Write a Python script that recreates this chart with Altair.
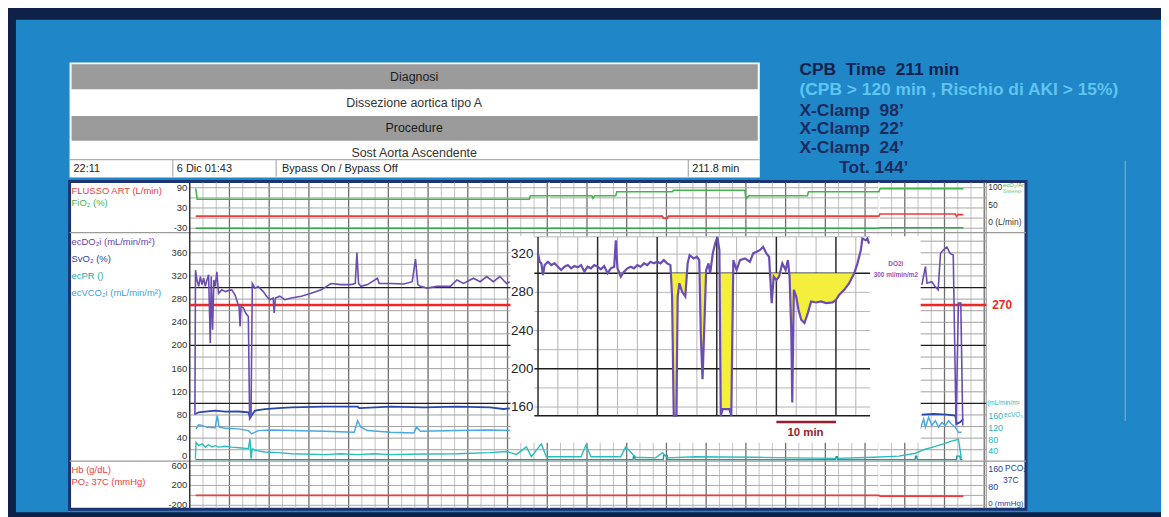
import altair as alt
import pandas as pd
import numpy as np

FONT = "Liberation Sans"
W, H = 1161, 509
M = 8  # page margin (image px -> chart px)
NB = "\u00a0"

# ---------------- data (minutes from bypass start) ----------------
DO2I_L_T = [1.3, 1.45, 1.83, 2.25, 2.67, 3.08, 3.5, 3.92, 4.33, 4.75, 5.17, 5.42, 5.75, 6.08, 6.42, 6.83, 7.25, 8.08, 8.92, 9.75,
            10.58, 11.42, 12.08, 12.42, 12.67, 12.92, 13.5, 14.08, 14.75, 15.08, 15.42, 15.75, 16.42, 17.25, 18.5, 19.33, 20.17, 21.0, 21.25, 21.58,
            22.67, 23.92, 25.58, 28.08, 30.58, 33.08, 35.58, 38.08, 40.58, 41.67, 42.08, 42.5, 43.08, 44.75, 47.25, 47.67, 50.58, 53.92, 56.0, 56.83,
            57.42, 58.08, 59.75, 62.25, 65.58, 67.25, 68.92, 71.42, 73.08, 74.75, 76.42, 78.08, 79.75, 80.58]
DO2I_L_V = [80, 330, 313, 302, 319, 305, 316, 302, 313, 322, 204, 319, 227, 313, 302, 327, 290, 296, 293, 295,
            296, 287, 273, 267, 233, 267, 265, 256, 250, 73, 76, 307, 299, 302, 293, 285, 279, 282, 256, 282,
            285, 279, 282, 285, 290, 296, 307, 305, 305, 307, 360, 307, 302, 305, 316, 307, 307, 306, 310, 349,
            305, 302, 299, 302, 302, 313, 307, 316, 310, 319, 310, 319, 307, 310]
DO2I_R_T = [184.3, 185.2, 185.6, 186.8, 187.6, 188.4, 189.0, 189.7, 190.6, 191.4, 192.2, 192.9, 193.5, 194.1, 194.6]
DO2I_R_V = [304.6, 336, 307.5, 310, 302, 296, 359, 364.6, 370, 359, 356, 61.7, 273, 273, 61.7]

SVO2_L_T = [1.42, 2.25, 3.92, 6.42, 8.92, 12.25, 14.75, 15.17, 15.58, 16.42, 18.92, 22.25, 25.58, 33.92, 42.25, 42.67, 50.58, 58.92, 67.25, 75.58, 78.92, 80.58]
SVO2_L_V = [81.8, 84.6, 85.7, 87.5, 85.7, 86, 84.6, 76, 79, 87.5, 90, 92, 93, 94.3, 94.3, 92, 94.3, 93, 94.3, 93, 90.3, 91.5]
SVO2_R_T = [184.3, 187.2, 190.6, 192.7, 193.1, 193.9, 194.75]
SVO2_R_V = [80.6, 81.7, 80.6, 79, 64.7, 67.5, 73]

VCO2_L_T = [1.58, 2.25, 3.08, 4.33, 6.42, 6.92, 7.42, 8.92, 12.25, 14.75, 15.58, 17.25, 20.58, 25.58, 33.92, 41.42, 42.25, 43.08, 44.75, 50.58, 56.42, 57.08, 58.08, 67.25, 75.58, 80.58]
VCO2_L_V = [56, 63, 62, 59, 58, 79, 59, 57, 56, 53, 47.5, 53, 54, 53, 52, 50, 70, 59, 53, 50, 49, 59, 52, 53, 54, 53]
VCO2_R_T = [183.9, 184.75, 185.2, 186, 186.8, 187.7, 188.5, 189.3, 190.2, 191, 191.8, 192.7, 193.5, 194.3]
VCO2_R_V = [56, 73, 59, 76, 62, 70, 59, 67, 62, 70, 64, 59, 50, 50]

ECPR_T = [1.42, 1.58, 2.25, 3.08, 3.92, 4.75, 5.58, 6.42, 7.25, 8.92, 10.58, 13.08, 14.75, 15.17, 15.42, 15.75, 16.42, 18.92, 22.25, 25.58,
          33.92, 38.08, 42.25, 46.42, 50.58, 58.92, 67.25, 75.58, 79.75, 82.25, 84.75, 86, 88.5, 89.75, 98.5, 99.75, 101, 108.5, 109.75, 112.25,
          117.25, 119, 120.25, 127.25, 142.25, 152.25, 162.75, 172.25, 178.5, 182.75, 184.75, 187.25, 189.75, 191.75, 193.5, 194.25]
ECPR_V = [4.6, 33, 27, 30, 24.6, 28.6, 24.6, 27, 24.6, 26, 24.6, 23, 22, 39, 4.6, 22, 19, 16, 15, 13,
          11.5, 13, 11.5, 13, 11.5, 12.6, 13, 15, 17, 12, 25, 8, 30, 8, 8, 28, 8, 8, 25, 7,
          6, 15, 6, 8, 7, 6, 5, 7, 9, 14, 20, 25, 30, 35, 38, 5]
BASE_T = [1.42, 111.6, 111.7, 112.0, 112.1, 119.2, 119.3, 120.2, 120.3, 162.6, 162.7, 163.0, 163.1, 182.6, 182.7, 183.0, 183.1, 193.0, 193.1, 193.9, 194.0, 194.5]
BASE_V = [3, 3, 9, 9, 3, 3, 10, 10, 3, 3, 8, 8, 3, 3, 9, 9, 3, 3, 9, 9, 3, 3]

FIO2_T = [1.5, 1.88, 85.5, 85.75, 101.25, 101.5, 102, 107.25, 107.5, 121.5, 121.75, 139.75, 140, 140.75, 155.5, 155.75, 173.5, 173.75, 194.75]
FIO2_V = [88, 56, 56, 66, 66, 59, 66, 66, 78, 78, 82.6, 82.6, 58, 66, 66, 78, 78, 87, 87]
FLOW_T = [1.5, 119, 119.25, 120.25, 120.5, 173.5, 173.75, 192.75, 193, 193.5, 194.75]
FLOW_V = [6, 6, 0, 0, 6, 6, 12, 12, 5, 11, 10]
GAS_T = [1.5, 173.5, 173.75, 194.75]
GAS_V = [-30, -30, -28.5, -28.5]

PO2_T = [1.5, 173.5, 173.75, 194.75]
PO2_V = [0, 0, -15, -15]

IN_T = [0.0, 0.28, 0.56, 0.83, 1.11, 1.67, 2.22, 2.78, 3.33, 3.89, 4.44, 5.0, 5.56, 6.11, 6.67, 7.22, 7.78, 8.33, 8.89, 9.44,
        10.0, 10.56, 11.11, 11.67, 12.22, 12.78, 13.06, 13.33, 13.89, 14.44, 15.0, 15.56, 16.11, 16.67, 17.22, 17.78, 18.33, 18.89, 19.44, 20.0,
        20.56, 21.11, 21.67, 22.22, 22.5, 22.78, 23.22, 23.44, 23.72, 24.17, 24.72, 25.11, 25.44, 26.11, 26.67, 27.06, 27.33, 27.61, 27.89, 28.22,
        28.61, 28.89, 29.33, 29.72, 30.11, 30.44, 30.67, 31.0, 32.11, 32.44, 32.78, 33.33, 33.89, 34.72, 35.56, 36.11, 36.67, 37.22, 37.78, 38.33,
        38.78, 39.0, 39.22, 39.56, 40.0, 40.44, 41.0, 41.56, 41.94, 42.22, 42.5, 42.67, 42.94, 43.33, 43.72, 44.17, 44.72, 45.28, 45.83, 46.67,
        47.5, 48.33, 49.44, 50.0, 50.56, 51.39, 52.22, 53.06, 53.61, 54.17, 54.44, 55.0, 55.28, 55.56]
IN_V = [320.7, 312.0, 310.3, 298.1, 308.5, 312.0, 308.5, 310.3, 306.8, 303.3, 306.8, 308.5, 305.1, 307.5, 306.1, 308.5, 301.6, 306.8, 305.1, 308.5,
        306.8, 304.0, 307.5, 299.9, 305.1, 306.8, 334.5, 305.1, 296.4, 301.6, 305.1, 306.8, 305.1, 308.5, 306.8, 310.3, 308.5, 312.0, 310.3, 312.0,
        310.3, 313.7, 310.3, 308.5, 275.6, 144, 144, 275.6, 289.5, 280.8, 275.6, 310.3, 318.9, 315.5, 317.2, 313.7, 234.1, 189.1, 241.0, 303.3,
        310.3, 299.9, 320.7, 331.0, 338.0, 324.1, 144, 157.9, 157.9, 144, 313.7, 303.3, 313.7, 315.5, 312.0, 320.7, 322.4, 324.1, 327.6, 320.7,
        317.2, 293.0, 268.7, 296.4, 293.0, 296.4, 310.3, 303.3, 313.7, 296.4, 241.0, 164.8, 282.6, 275.6, 261.8, 251.4, 247.9, 258.3, 270.4, 269.4,
        270.4, 268.7, 269.4, 272.2, 277.4, 282.6, 289.5, 299.9, 310.3, 324.1, 336.2, 334.5, 336.2, 331.0]
IN_THRESHOLD = 300

TOP_TICKS = [90, 30, -30]
MID_TICKS = [360, 320, 280, 240, 200, 160, 120, 80, 40]
BOT_TICKS = [600, 200, -200]
IN_TICKS = [320, 280, 240, 200, 160]
RED_LIMIT = [270]

# ---------------- helpers ----------------
def px(v):
    return v - M

ONE = pd.DataFrame({"k": [0]})


def sc(domain, rng, clamp=False):
    kw = dict(domain=domain, range=[px(r) for r in rng], nice=False, zero=False)
    if clamp:
        kw["clamp"] = True
    return alt.Scale(**kw)


XS = sc([0, 200.5], [191, 993])
YS_TOP = sc([-30, 90], [228, 187.2])
YS_MID = sc([0, 360], [462.7, 252.7])
YS_BOT = sc([-200, 600], [507, 467])
XS_IN = sc([0, 55.67], [541.7, 875.7])
YS_IN = sc([151, 338], [416.7, 236.7], clamp=True)


def box(x1, y1, x2, y2, fill, stroke=None, sw=0):
    kw = {"fill": fill, "strokeWidth": sw}
    if stroke is not None:
        kw["stroke"] = stroke
    return alt.Chart(ONE).mark_rect(**kw).encode(
        x=alt.value(px(x1)), x2=alt.value(px(x2)), y=alt.value(px(y1)), y2=alt.value(px(y2)))


def label(s, x, y, size=10, color="#000", weight="normal", align="left", baseline="middle"):
    return alt.Chart(ONE).mark_text(text=s, font=FONT, fontSize=size, color=color, fontWeight=weight,
                                    align=align, baseline=baseline).encode(x=alt.value(px(x)), y=alt.value(px(y)))


def hline(x1, x2, y, color, sw=1):
    return alt.Chart(ONE).mark_rule(color=color, strokeWidth=sw).encode(
        x=alt.value(px(x1)), x2=alt.value(px(x2)), y=alt.value(px(y)))


def vline(x, y1, y2, color, sw=1):
    return alt.Chart(ONE).mark_rule(color=color, strokeWidth=sw).encode(
        x=alt.value(px(x)), y=alt.value(px(y1)), y2=alt.value(px(y2)))


def series(t, v, xs, ys, color, sw=1.5, seg=None):
    df = pd.DataFrame({"t": t, "v": v})
    enc = dict(x=alt.X("t:Q", scale=xs, axis=None), y=alt.Y("v:Q", scale=ys, axis=None))
    if seg is not None:
        df["seg"] = seg
        enc["detail"] = "seg:N"
    return alt.Chart(df).mark_line(color=color, strokeWidth=sw).encode(**enc)


def vgrid(values, xs, y1, y2, color, sw=1):
    df = pd.DataFrame({"t": values})
    return alt.Chart(df).mark_rule(color=color, strokeWidth=sw).encode(
        x=alt.X("t:Q", scale=xs, axis=None), y=alt.value(px(y1)), y2=alt.value(px(y2)))


def hgrid(values, ys, x1, x2, color, sw=1):
    df = pd.DataFrame({"v": values})
    return alt.Chart(df).mark_rule(color=color, strokeWidth=sw).encode(
        y=alt.Y("v:Q", scale=ys, axis=None), x=alt.value(px(x1)), x2=alt.value(px(x2)))


def ticks(values, ys, x, color="#222", size=9.5, align="right", labels=None, weight="normal"):
    labs = labels if labels is not None else [str(v) for v in values]
    df = pd.DataFrame({"v": values, "lab": labs})
    return alt.Chart(df).mark_text(font=FONT, fontSize=size, color=color, align=align, baseline="middle",
                                   fontWeight=weight).encode(
        y=alt.Y("v:Q", scale=ys, axis=None), x=alt.value(px(x)), text="lab:N")


def segs(a, b):
    return ["L"] * len(a) + ["R"] * len(b)

layers = []

# ---------------- background ----------------
layers.append(box(16, 18, 1169, 514, "#1f86c8"))
layers.append(vline(1133, 160, 422, "#8ea4bb", 1.2))

# ---------------- info table ----------------
layers.append(box(70, 61, 765, 177, "#ffffff"))
layers.append(box(72, 63, 763, 88, "#9b9b9b"))
layers.append(box(72, 115, 763, 140, "#9b9b9b"))
layers.append(label("Diagnosi", 417, 75.5, 12.5, "#1c1c1c", align="center"))
layers.append(label("Dissezione aortica tipo A", 417, 101.5, 12.5, "#333333", align="center"))
layers.append(label("Procedure", 417, 127.5, 12.5, "#1c1c1c", align="center"))
layers.append(label("Sost Aorta Ascendente", 417, 152, 12.5, "#333333", align="center"))
layers.append(hline(70, 765, 159, "#9a9a9a", 1))
for xs_ in [174, 278, 693]:
    layers.append(vline(xs_, 159, 176, "#9a9a9a", 1))
layers.append(label("22:11", 74, 168, 11, "#222"))
layers.append(label("6 Dic 01:43", 178, 168, 11, "#222"))
layers.append(label("Bypass On / Bypass Off", 284, 168, 11, "#222"))
layers.append(label("211.8 min", 697, 168, 11, "#222"))

# ---------------- CPB text block ----------------
BIG = 17.5
layers.append(label(f"CPB{NB}{NB}Time{NB}{NB}211 min", 805, 69, BIG, "#13224a", "bold"))
layers.append(label("(CPB > 120 min , Rischio di AKI > 15%)", 805, 88.5, BIG, "#5fc5ef", "bold"))
layers.append(label(f"X-Clamp{NB}{NB}98\u2019", 805, 109.5, BIG, "#1b2b5c", "bold"))
layers.append(label(f"X-Clamp{NB}{NB}22\u2019", 805, 128.5, BIG, "#1b2b5c", "bold"))
layers.append(label(f"X-Clamp{NB}{NB}24\u2019", 805, 147.5, BIG, "#1b2b5c", "bold"))
layers.append(label("Tot. 144\u2019", 845, 167.5, BIG, "#1b2b5c", "bold"))

# ---------------- monitor ----------------
layers.append(box(70, 181, 1033, 511, "#ffffff", "#1c3470", 3))

minor = [i * 10 / 3 for i in range(61) if i % 3 != 0]
major = [i * 10 for i in range(1, 21)]
layers.append(vgrid(minor, XS, 182, 510, "#c2c2c2", 1))
layers.append(vgrid(major, XS, 182, 510, "#6e6e6e", 1.3))
layers.append(hgrid([90, 60, 30, 0, -30], YS_TOP, 191, 993, "#a8a8a8", 1))
layers.append(hgrid([v for v in range(20, 400, 20) if v % 100 != 0], YS_MID, 191, 993, "#a0a0a0", 1))
layers.append(hgrid([100, 200, 300], YS_MID, 191, 993, "#1e1e1e", 1.3))
layers.append(hgrid([600, 400, 200, 0, -200], YS_BOT, 191, 993, "#a8a8a8", 1))
layers.append(vline(553, 182, 510, "#ffffff", 1.5))
layers.append(vline(885, 182, 510, "#ffffff", 1.5))
layers.append(hline(70, 1033, 232.5, "#9a9a9a", 1.2))
layers.append(hline(70, 1033, 462.5, "#9a9a9a", 1.2))
layers.append(vline(191, 182, 510, "#333333", 1.5))
layers.append(vline(993, 182, 510, "#8a8a8a", 1))

layers.append(hgrid(RED_LIMIT, YS_MID, 191, 993, "#f22424", 2.5))

layers.append(series(GAS_T, GAS_V, XS, YS_TOP, "#2fa84a", 1.6))
layers.append(series(FLOW_T, FLOW_V, XS, YS_TOP, "#ef3b3b", 1.6))
layers.append(series(FIO2_T, FIO2_V, XS, YS_TOP, "#45b54a", 1.6))
layers.append(series(BASE_T, BASE_V, XS, YS_MID, "#1e9a98", 1.4))
layers.append(series(ECPR_T, ECPR_V, XS, YS_MID, "#2cbcbc", 1.4))
layers.append(series(VCO2_L_T + VCO2_R_T, VCO2_L_V + VCO2_R_V, XS, YS_MID, "#4aa8e4", 1.5, segs(VCO2_L_T, VCO2_R_T)))
layers.append(series(SVO2_L_T + SVO2_R_T, SVO2_L_V + SVO2_R_V, XS, YS_MID, "#2b46aa", 1.8, segs(SVO2_L_T, SVO2_R_T)))
layers.append(series(DO2I_L_T + DO2I_R_T, DO2I_L_V + DO2I_R_V, XS, YS_MID, "#6a4cb0", 1.6, segs(DO2I_L_T, DO2I_R_T)))
layers.append(series(PO2_T, PO2_V, XS, YS_BOT, "#ef3b3b", 1.6))

# ---------------- inset ----------------
layers.append(box(514, 236, 927, 444, "#ffffff"))
in_minor = [i * 10 / 3 for i in range(17) if i % 3 != 0]
in_major = [0, 10, 20, 30, 40, 50]
layers.append(vgrid(in_minor, XS_IN, 236.7, 416.7, "#b4b4b4", 1))
layers.append(hgrid([160, 180, 220, 240, 260, 280, 320, 338], YS_IN, 538, 876, "#b4b4b4", 1))
layers.append(vgrid(in_major, XS_IN, 236.7, 416.7, "#2a2a2a", 1.5))
layers.append(hgrid([200, 300, 151], YS_IN, 538, 876, "#1e1e1e", 1.5))

in_df = pd.DataFrame({"t": IN_T, "v": IN_V})
in_df["lo"] = np.minimum(in_df["v"], IN_THRESHOLD)
in_df["hi"] = IN_THRESHOLD
layers.append(alt.Chart(in_df).mark_area(color="#f3ef3c", opacity=1).encode(
    x=alt.X("t:Q", scale=XS_IN, axis=None), y=alt.Y("lo:Q", scale=YS_IN, axis=None), y2="hi:Q"))
layers.append(series(IN_T, IN_V, XS_IN, YS_IN, "#6a4cb6", 2.2))
layers.append(ticks(IN_TICKS, YS_IN, 537, "#222", 13.5))
layers.append(label("DO2i", 902, 264.5, 6.5, "#a24cb4", "bold", align="center"))
layers.append(label("300 ml/min/m2", 902, 275, 6.5, "#a24cb4", "bold", align="center"))
bar_df = pd.DataFrame({"a": [40], "b": [50]})
layers.append(alt.Chart(bar_df).mark_rule(color="#9b1c2e", strokeWidth=2.5).encode(
    x=alt.X("a:Q", scale=XS_IN, axis=None), x2="b:Q", y=alt.value(px(423))))
layers.append(label("10 min", 811, 434.5, 11.5, "#9b1c2e", "bold", align="center"))

# ---------------- left labels ----------------
layers.append(label("FLUSSO ART (L/min)", 72, 190.5, 9.5, "#f03c3c"))
layers.append(label("FiO\u2082 (%)", 72, 203, 9.5, "#3cb44b"))
layers.append(label("ecDO\u2082i (mL/min/m\u00b2)", 72, 241.5, 9.5, "#6a40a8"))
layers.append(label("SvO\u2082 (%)", 72, 259, 9.5, "#2d3ea2"))
layers.append(label("ecPR ()", 72, 276, 9.5, "#22aaaa"))
layers.append(label("ecVCO\u2082i (mL/min/m\u00b2)", 72, 293, 9.5, "#3d9fe2"))
layers.append(label("Hb (g/dL)", 72, 471, 9.5, "#f03c3c"))
layers.append(label("PO\u2082 37C (mmHg)", 72, 483.5, 9.5, "#f03c3c"))

layers.append(ticks(TOP_TICKS, YS_TOP, 188.5, "#333", 9.5))
layers.append(ticks(MID_TICKS, YS_MID, 188.5, "#333", 9.5))
layers.append(ticks([9.8], YS_MID, 188.5, "#333", 9.5, labels=["0"]))
layers.append(ticks(BOT_TICKS, YS_BOT, 188.5, "#333", 9.5))

# ---------------- right labels ----------------
layers.append(label("100", 995, 186, 8.5, "#333"))
layers.append(label("ecO\u2082/Ar", 1010, 184, 6, "#45b54a"))
layers.append(label("Sweep", 1010, 191, 6, "#7ccf80"))
layers.append(label("50", 995, 205, 8.5, "#333"))
layers.append(label("0 (L/min)", 995, 221.5, 8.5, "#333"))
layers.append(ticks(RED_LIMIT, YS_MID, 999, "#f22424", 12, align="left", weight="bold"))
layers.append(label("(mL/min/m\u00b2", 994, 403.5, 6.5, "#2cb5c0"))
layers.append(label("160", 995, 417, 9, "#2cb5c0"))
layers.append(label("ecVO\u2082", 1011, 416, 6.5, "#2cb5c0"))
layers.append(label("120", 995, 429, 9, "#2cb5c0"))
layers.append(label("80", 995, 441, 9, "#2cb5c0"))
layers.append(label("40", 995, 452.5, 9, "#2cb5c0"))
layers.append(label("160", 995, 470, 9, "#2a3a9a"))
layers.append(label("PCO\u2082", 1012, 469.5, 8.5, "#2a3a9a"))
layers.append(label("37C", 1010, 481.5, 8.5, "#2a3a9a"))
layers.append(label("80", 995, 488.5, 9, "#2a3a9a"))
layers.append(label("0 (mmHg)", 995, 506, 8, "#2a3a9a"))

chart = alt.layer(*layers).resolve_scale(x="independent", y="independent").properties(
    width=W, height=H, padding=0, autosize=alt.AutoSizeParams(type="none"), background="#0f2147"
).configure_view(strokeWidth=0)

chart.save("out.html", embed_options={"renderer": "svg", "actions": False})
